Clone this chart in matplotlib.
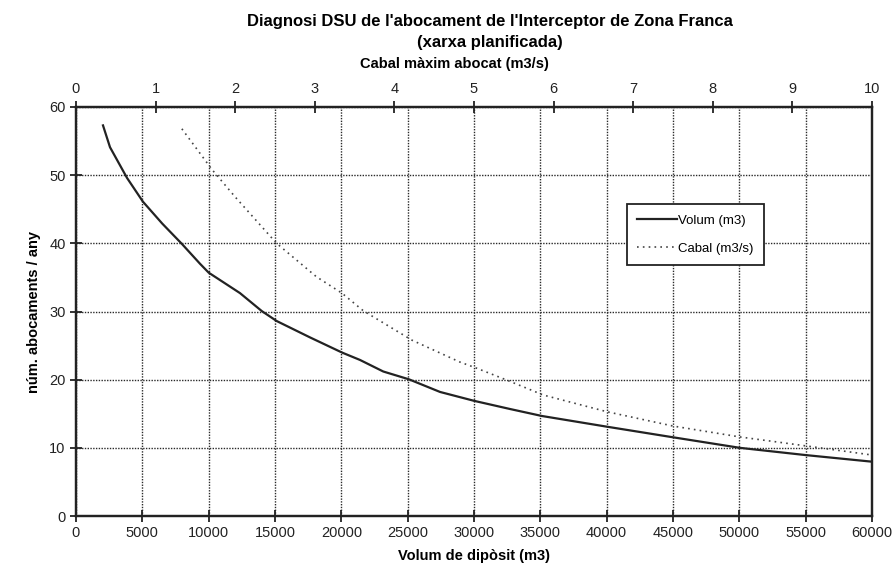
import numpy as np
import matplotlib.pyplot as plt

plt.rcParams['font.family'] = ['Liberation Sans Narrow', 'Liberation Sans', 'DejaVu Sans']

# Volum de diposit (m3) vs num. abocaments / any
volum_x = [2035, 2563, 3844, 5050, 6500, 7990, 9350, 10000, 12360, 14000, 15130,
           17640, 20075, 21400, 23160, 25100, 27440, 30000, 32710, 35130, 40030,
           45000, 50050, 54950, 60000]
volum_y = [57.3, 54.1, 49.6, 46.1, 42.9, 39.9, 37.0, 35.7, 32.7, 30.07, 28.6,
           26.2, 23.96, 22.9, 21.2, 20.05, 18.2, 16.9, 15.7, 14.67, 13.1,
           11.55, 10.0, 8.95, 7.97]

# Cabal maxim abocat (m3/s) vs num. abocaments / any
cabal_x = [1.33, 1.71, 2.0, 2.52, 3.02, 3.34, 3.61, 4.22, 4.82, 5.03, 5.41,
           5.87, 6.67, 7.5, 8.34, 9.1, 10.0]
cabal_y = [56.8, 50.8, 46.8, 40.0, 35.1, 32.7, 30.1, 25.8, 22.6, 21.7, 19.95,
           17.75, 15.3, 13.2, 11.6, 10.4, 8.95]

fig = plt.figure(figsize=(8.92, 5.67), dpi=100)
ax = fig.add_axes([0.0852, 0.0899, 0.8924, 0.7214])
ax2 = ax.twiny()

l1, = ax.plot(volum_x, volum_y, color='#222222', lw=1.6, label='Volum (m3)')
l2, = ax2.plot(cabal_x, cabal_y, color='#444444', lw=1.2, ls=(0, (1, 2.5)),
               label='Cabal (m3/s)')

ax.set_xlim(0, 60000)
ax.set_ylim(0, 60)
ax2.set_xlim(0, 10)
ax.set_xticks(np.arange(0, 60001, 5000))
ax.set_yticks(np.arange(0, 61, 10))
ax2.set_xticks(np.arange(0, 11, 1))

ax.grid(True, color='#2a2a2a', ls=(0, (1, 1)), lw=1.0)
ax.set_axisbelow(True)

for a in (ax, ax2):
    for s in a.spines.values():
        s.set_linewidth(1.6)
        s.set_color('#222222')
    a.tick_params(direction='inout', length=8, width=1.3, labelsize=10.5,
                  colors='#222222')
ax2.tick_params(axis='x', pad=4)

ax.set_xlabel('Volum de dipòsit (m3)', fontsize=10.5, fontweight='bold', labelpad=6)
ax.set_ylabel('núm. abocaments / any', fontsize=10.5, fontweight='bold', labelpad=6)
ax2.set_xlabel('Cabal màxim abocat (m3/s)', fontsize=10.5, fontweight='bold')
ax2.xaxis.set_label_coords(0.476, 1.095)

fig.text(0.549, 0.943, "Diagnosi DSU de l'abocament de l'Interceptor de Zona Franca\n(xarxa planificada)",
         ha='center', va='center', fontsize=12, fontweight='bold', linespacing=1.5)

leg = ax.legend(handles=[l1, l2], loc='upper left', bbox_to_anchor=(0.692, 0.763),
                borderaxespad=0, fontsize=9.5, frameon=True, fancybox=False,
                handlelength=3.0, handletextpad=0.05, labelspacing=1.2,
                borderpad=0.8, framealpha=1)
leg.get_frame().set_edgecolor('#222222')
leg.get_frame().set_linewidth(1.3)

fig.savefig('out.png', dpi=100)
